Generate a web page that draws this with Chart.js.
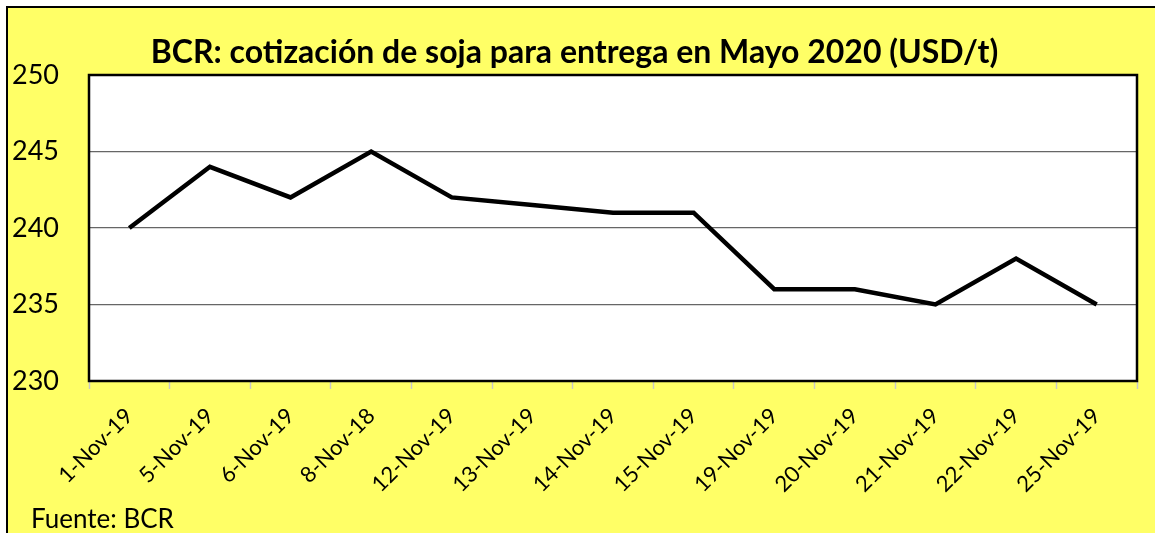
<!DOCTYPE html>
<html>
<head>
<meta charset="utf-8">
<script src="https://cdn.jsdelivr.net/npm/chart.js@4.4.1/dist/chart.umd.min.js"></script>
<style>
  html, body { margin: 0; padding: 0; background: #fff; }
  #wrap { position: relative; width: 1155px; height: 533px; overflow: hidden; }
  #frame { position: absolute; left: 6px; top: 6px; width: 1160px; height: 540px;
           background: #ffff66; border: 2px solid #000; box-sizing: border-box; }
  #chart { position: absolute; left: 0; top: 0; }
  #source { position: absolute; left: 31px; top: 502px; font-family: Lato, sans-serif;
            font-size: 26px; color: #000; }
</style>
</head>
<body>
<div id="wrap">
  <div id="frame"></div>
  <canvas id="chart" width="1155" height="533"></canvas>
  <div id="source">Fuente: BCR</div>
</div>
<script>
// fechas tal como aparecen en el gráfico
const fechas = ['1-Nov-19', '5-Nov-19', '6-Nov-19', '8-Nov-18', '12-Nov-19', '13-Nov-19', '14-Nov-19',
                '15-Nov-19', '19-Nov-19', '20-Nov-19', '21-Nov-19', '22-Nov-19', '25-Nov-19'];
// cotización soja mayo 2020, USD/t
const cotizacion = [240, 244, 242, 245, 242, 241.5, 241, 241, 236, 236, 235, 238, 235];
const yMin = 230, yMax = 250, yStep = 5;

// fondo blanco y borde del área de trazado
const plotArea = {
  id: 'plotArea',
  beforeDraw(chart) {
    const { ctx, chartArea: a } = chart;
    ctx.save();
    ctx.fillStyle = '#fff';
    ctx.fillRect(a.left, a.top, a.right - a.left, a.bottom - a.top);
    ctx.restore();
  },
  afterDatasetsDraw(chart) {
    const { ctx, chartArea: a } = chart;
    ctx.save();
    ctx.strokeStyle = '#000';
    ctx.lineWidth = 2.5;
    ctx.strokeRect(a.left, a.top, a.right - a.left, a.bottom - a.top);
    ctx.restore();
  }
};

new Chart(document.getElementById('chart'), {
  type: 'line',
  data: {
    labels: fechas,
    datasets: [{
      data: cotizacion,
      borderColor: '#000',
      borderWidth: 4.5,
      borderJoinStyle: 'miter',
      pointRadius: 0,
      tension: 0,
      fill: false
    }]
  },
  options: {
    responsive: false,
    animation: false,
    layout: { padding: { left: 12, right: 18, top: 0, bottom: 0 } },
    plugins: {
      legend: { display: false },
      tooltip: { enabled: false },
      title: {
        display: true,
        text: 'BCR: cotización de soja para entrega en Mayo 2020 (USD/t)',
        color: '#000',
        font: { family: 'Lato', size: 32, weight: 'bold', lineHeight: 1.2 },
        padding: { top: 33, bottom: 3.6 }
      }
    },
    scales: {
      x: {
        offset: true,
        grid: { offset: true, drawOnChartArea: false, color: '#c8c8c8', tickLength: 8, tickWidth: 1.5 },
        border: { display: false },
        ticks: {
          color: '#000',
          font: { family: 'Lato', size: 22 },
          maxRotation: 45, minRotation: 45,
          autoSkip: false,
          padding: 14
        },
        afterFit(s) { s.height = 152; s.paddingLeft = 0; s.paddingRight = 0; }
      },
      y: {
        min: yMin, max: yMax,
        grid: { color: '#666', lineWidth: 1.2, drawTicks: false },
        border: { display: false },
        ticks: {
          stepSize: yStep,
          color: '#000',
          font: { family: 'Lato', size: 27 },
          crossAlign: 'far',
          padding: 0
        },
        afterFit(s) { s.width = 77; }
      }
    }
  },
  plugins: [plotArea]
});
</script>
</body>
</html>
